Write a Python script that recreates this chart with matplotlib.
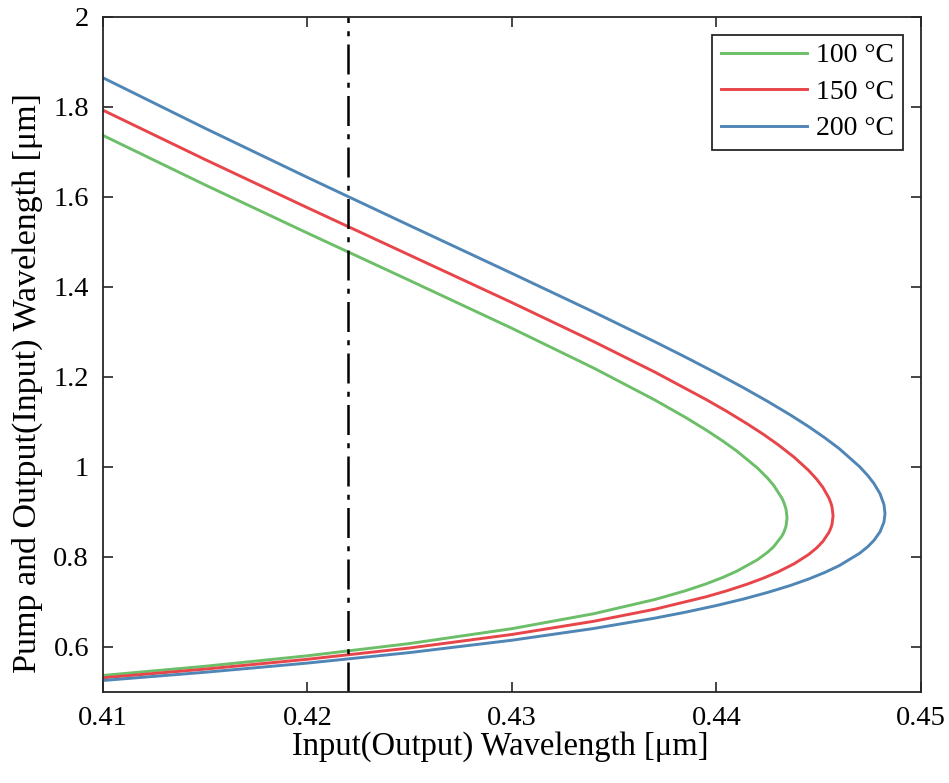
import matplotlib
matplotlib.use('Agg')
import matplotlib.pyplot as plt

plt.rcParams['font.family'] = ['Liberation Serif', 'DejaVu Serif']

# tuning curves [um]: upper branch out to the turning point, then the lower branch back
x_100 = [0.41, 0.415, 0.42, 0.425, 0.43, 0.434, 0.437, 0.4385, 0.4395, 0.4403, 0.441, 0.442,
         0.4425, 0.4428, 0.4432, 0.4433, 0.4434, 0.44345,
         0.4434, 0.4433, 0.4432, 0.4428, 0.4425, 0.442, 0.441, 0.4403, 0.4395, 0.4385, 0.437,
         0.434, 0.43, 0.425, 0.42, 0.415, 0.41]
y_100 = [1.7360, 1.6260, 1.5191, 1.4138, 1.3076, 1.2193, 1.1481, 1.1094, 1.0816, 1.0576, 1.0349,
         0.9975, 0.9748, 0.9587, 0.9304, 0.9203, 0.9060, 0.8869,
         0.8684, 0.8553, 0.8464, 0.8229, 0.8104, 0.7937, 0.7685, 0.7543, 0.7403, 0.7251, 0.7056,
         0.6739, 0.6407, 0.6077, 0.5805, 0.5572, 0.5368]

x_150 = [0.41, 0.415, 0.42, 0.425, 0.43, 0.434, 0.437, 0.4395, 0.4405, 0.4415, 0.4423, 0.443,
         0.4438, 0.4445, 0.4449, 0.4452, 0.4455, 0.4456, 0.44565, 0.4457,
         0.44565, 0.4456, 0.4455, 0.4452, 0.4449, 0.4445, 0.4438, 0.443, 0.4423, 0.4415, 0.4405,
         0.4395, 0.437, 0.434, 0.43, 0.425, 0.42, 0.415, 0.41]
y_150 = [1.7920, 1.6823, 1.5754, 1.4701, 1.3647, 1.2781, 1.2101, 1.1493, 1.1233, 1.0956, 1.0720,
         1.0496, 1.0213, 0.9923, 0.9725, 0.9546, 0.9306, 0.9189, 0.9107, 0.8914,
         0.8727, 0.8652, 0.8546, 0.8343, 0.8201, 0.8052, 0.7849, 0.7665, 0.7530, 0.7395, 0.7247,
         0.7116, 0.6840, 0.6571, 0.6278, 0.5978, 0.5727, 0.5509, 0.5316]

x_200 = [0.41, 0.415, 0.42, 0.425, 0.43, 0.434, 0.437, 0.4385, 0.44, 0.4413, 0.4425, 0.4436,
         0.4445, 0.4453, 0.446, 0.447, 0.4474, 0.4477, 0.448, 0.44819, 0.44824,
         0.44819, 0.448, 0.4477, 0.4474, 0.447, 0.446, 0.4453, 0.4445, 0.4436, 0.4425, 0.4413,
         0.44, 0.4385, 0.437, 0.434, 0.43, 0.425, 0.42, 0.415, 0.41]
y_200 = [1.8640, 1.7517, 1.6427, 1.5358, 1.4296, 1.3437, 1.2775, 1.2433, 1.2080, 1.1762, 1.1454,
         1.1156, 1.0895, 1.0644, 1.0405, 1.0003, 0.9806, 0.9630, 0.9400, 0.9160, 0.8965,
         0.8776, 0.8559, 0.8367, 0.8228, 0.8081, 0.7806, 0.7656, 0.7508, 0.7364, 0.7211, 0.7063,
         0.6921, 0.6774, 0.6642, 0.6411, 0.6150, 0.5876, 0.5643, 0.5439, 0.5256]

labels = ['100 °C', '150 °C', '200 °C']
line_colors = ['#6cbf68', '#e8454a', '#4f86b6']
x_mark = 0.422

fig = plt.figure(figsize=(9.49, 7.83), dpi=100)
ax = fig.add_axes([0.1085, 0.1162, 0.862, 0.8627])

for xs, ys, lab, c in zip([x_100, x_150, x_200], [y_100, y_150, y_200], labels, line_colors):
    ax.plot(xs, ys, color=c, lw=2.1, label=lab, solid_joinstyle='round')

# dash-dot marker line
ax.axvline(x_mark, color='black', lw=1.8, linestyle=(0, (12, 3.3, 2, 3.3)))

ax.set_xlim(0.41, 0.45)
ax.set_ylim(0.5, 2)
ax.set_xticks([0.41, 0.42, 0.43, 0.44, 0.45])
ax.set_xticklabels(['0.41', '0.42', '0.43', '0.44', '0.45'])
ax.set_yticks([0.6, 0.8, 1, 1.2, 1.4, 1.6, 1.8, 2])
ax.set_yticklabels(['0.6', '0.8', '1', '1.2', '1.4', '1.6', '1.8', '2'])
ax.tick_params(direction='in', top=True, right=True, length=7, width=1.2,
               labelsize=20.5, pad=10, colors='#262626', labelcolor='black')
for sp in ax.spines.values():
    sp.set_linewidth(1.3)
    sp.set_color('#262626')

ax.set_xlabel('Input(Output) Wavelength [μm]', fontsize=23.5)
ax.set_ylabel('Pump and Output(Input) Wavelength [μm]', fontsize=24.5)
ax.xaxis.set_label_coords(0.486, -0.058)
ax.yaxis.set_label_coords(-0.073, 0.457)

leg = ax.legend(loc='upper right', fontsize=20, handlelength=3.1, fancybox=False,
                framealpha=1, edgecolor='#262626', borderpad=0.3, labelspacing=0.4,
                handletextpad=0.35, borderaxespad=0.65)
leg.get_frame().set_linewidth(1.3)

fig.savefig('out.png', dpi=100)
